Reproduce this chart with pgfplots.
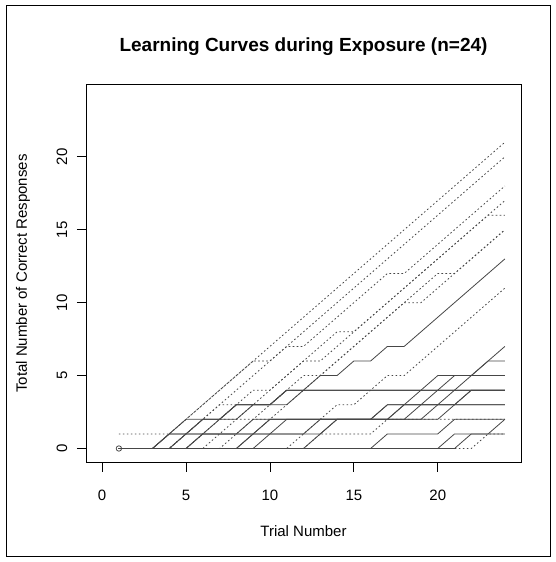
\documentclass[border=0pt]{standalone}
\usepackage{fontspec}
\setmainfont{Liberation Sans}
\usepackage{pgfplots}
\usepackage{pgfplotstable}
\pgfplotsset{compat=1.18}

% cumulative correct responses per trial, one column per participant (n=24)
\pgfplotstableread{
t c21 c20 c18 c17 c16 c15a c15b c13 c11 la lb lf sa sb sc sd se sg sh s1 s2 s3 d1 d0
1  1  0  0  0  0  0  0  0  0  0 0 0 0 0 0 0 0 0 0 0 0 0 0 0
2  1  0  0  0  0  0  0  0  0  0 0 0 0 0 0 0 0 0 0 0 0 0 0 0
3  1  0  0  0  0  0  0  0  0  0 0 0 0 0 0 0 0 0 0 0 0 0 0 0
4  1  1  0  0  0  0  0  0  0  0 1 0 1 0 0 0 0 1 0 0 0 0 0 0
5  2  2  1  1  0  0  0  1  0  1 2 0 1 0 0 0 0 1 0 0 0 0 0 0
6  3  3  2  2  0  1  0  2  0  2 2 1 1 1 0 0 0 1 0 0 0 0 0 0
7  4  4  3  3  1  2  0  2  0  2 2 2 1 1 0 0 0 1 0 0 0 0 0 0
8  5  5  4  3  2  2  1  3  0  3 3 2 1 1 0 0 0 1 0 0 0 0 0 0
9  6  6  5  4  3  2  2  3  0  3 3 3 1 1 1 0 0 2 1 0 0 0 0 0
10 7  6  6  4  4  2  3  3  0  3 3 3 2 1 2 1 0 2 1 0 0 0 0 0
11 8  7  7  5  5  3  4  4  0  4 3 4 2 1 2 2 0 2 1 0 0 0 0 0
12 9  8  7  6  6  4  5  4  1  4 4 4 2 1 2 2 0 2 1 0 0 0 0 0
13 10 9  8  7  6  5  5  5  2  4 4 4 2 1 2 2 1 2 2 0 0 0 1 0
14 11 10 9  8  7  6  6  5  3  4 4 4 2 2 2 2 2 2 2 0 0 0 1 0
15 12 11 10 8  8  7  7  6  3  4 4 4 2 2 2 2 2 2 2 0 0 0 1 0
16 13 12 11 9  9  8  8  6  4  4 4 4 2 2 2 2 2 2 2 0 0 0 1 0
17 14 13 12 10 10 9  9  7  5  4 4 4 2 2 2 2 3 2 3 0 0 1 2 0
18 15 14 12 11 11 10 10 7  5  4 4 4 2 3 2 2 3 3 3 0 0 1 2 0
19 16 15 13 12 12 11 10 8  6  4 4 4 2 4 3 2 3 3 3 0 0 1 2 0
20 17 16 14 13 13 12 11 9  7  4 4 4 2 5 4 3 3 3 3 0 0 1 2 0
21 18 17 15 14 14 12 12 10 8  4 4 4 3 5 5 4 3 3 3 1 0 2 2 0
22 19 18 16 15 15 13 13 11 9  4 4 4 3 5 5 5 4 4 3 1 1 2 2 0
23 20 19 17 16 16 14 14 12 10 4 4 4 3 6 6 5 4 4 3 1 1 2 2 1
24 21 20 18 17 16 15 15 13 11 4 4 4 3 7 6 5 4 4 3 1 2 2 2 1
}\curves

\definecolor{lc}{RGB}{70,70,70}
\tikzset{
  sol/.style={lc, line width=0.8pt, solid},
  dot/.style={lc, line width=0.8pt, dash pattern=on 1.6pt off 2.4pt},
}
\newcommand{\lab}{\fontsize{15}{18}\selectfont}

\begin{document}
\begin{tikzpicture}[x=1pt,y=1pt]
\useasboundingbox (0,0) rectangle (556,562);
\draw[line width=1pt] (6,5.5) rectangle (550.5,556.5);
\begin{axis}[
  at={(86pt,99.5pt)}, anchor=south west,
  scale only axis, width=435pt, height=378pt,
  xmin=-0.96, xmax=24.96, ymin=-0.96, ymax=24.96,
  xtick={0,5,10,15,20}, ytick={0,5,10,15,20},
  tick align=outside, tick pos=left, major tick length=9pt,
  every tick/.style={black, line width=0.8pt},
  axis line style={line width=0.8pt},
  ticklabel style={font=\lab, inner sep=0pt},
  xticklabel style={anchor=north},
  xticklabel shift=18pt,
  yticklabel style={rotate=90, anchor=south},
  yticklabel shift=9.5pt,
  /pgf/number format/assume math mode=true,
  title={Learning Curves during Exposure (n=24)},
  title style={font=\bfseries\fontsize{19}{23}\selectfont, at={(axis description cs:0.5,1.072)}, anchor=base},
  xlabel={Trial Number},
  xlabel style={font=\lab, at={(axis description cs:0.5,-0.181)}, anchor=center},
  ylabel={Total Number of Correct Responses},
  ylabel style={font=\lab, at={(axis description cs:-0.145,0.5)}, anchor=center},
]
\foreach \c in {c13,la,lb,lf,sa,sb,sc,sd,se,sg,sh,s1,s2,s3} {
  \addplot[sol] table[x=t, y=\c] {\curves};
}
\foreach \c in {c21,c20,c18,c17,c16,c15a,c15b,c11,d1,d0} {
  \addplot[dot] table[x=t, y=\c] {\curves};
}
\addplot[only marks, mark=o, mark size=2.7pt, mark options={lc, line width=0.8pt}] coordinates {(1,0)};
\end{axis}
\end{tikzpicture}
\end{document}
